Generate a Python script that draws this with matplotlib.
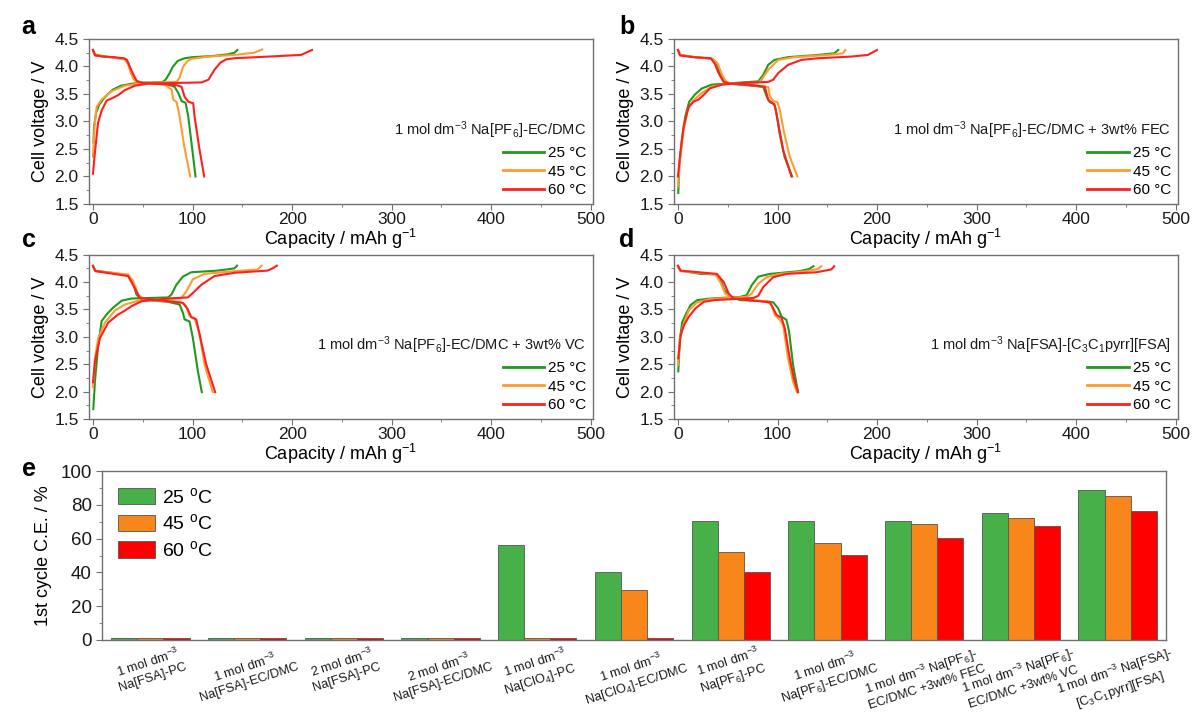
import matplotlib
matplotlib.use("Agg")
import matplotlib.pyplot as plt
from matplotlib.lines import Line2D
from matplotlib.ticker import MultipleLocator

plt.rcParams["font.family"] = ["Liberation Sans", "DejaVu Sans"]
plt.rcParams["mathtext.default"] = "regular"

# charge / discharge curves, (capacity mAh/g, voltage V)
a_chg_25 = [(0.5, 2.62), (1, 2.9), (3, 3.15), (6, 3.3), (10, 3.4), (15, 3.5), (20, 3.58), (28, 3.65), (40, 3.69),
            (60, 3.71), (70, 3.72), (73, 3.76), (77, 3.88), (80, 3.99), (85, 4.1), (92, 4.15), (100, 4.17),
            (120, 4.19), (135, 4.22), (142, 4.25), (145, 4.3)]
a_chg_45 = [(0, 2.36), (1.5, 2.9), (3.7, 3.27), (8.7, 3.4), (18.7, 3.55), (32, 3.65), (49, 3.7), (84, 3.72),
            (87, 3.8), (90.6, 4.0), (95, 4.1), (99, 4.14), (116, 4.18), (142, 4.21), (162, 4.25), (170, 4.31)]
a_chg_60 = [(0, 2.05), (1.5, 2.36), (5, 2.97), (8.7, 3.2), (13.7, 3.38), (20, 3.43), (25.4, 3.48), (32, 3.57),
            (42, 3.65), (55.5, 3.69), (82, 3.7), (109, 3.71), (116, 3.76), (122, 3.94), (128, 4.07), (134, 4.13),
            (142, 4.15), (176, 4.18), (209, 4.21), (220, 4.3)]
a_dis_25 = [(0, 4.3), (2, 4.22), (9, 4.19), (22, 4.16), (32, 4.13), (35.5, 4.06), (39, 3.88), (42, 3.76),
            (47, 3.71), (59, 3.7), (75.6, 3.67), (82, 3.63), (85.6, 3.52), (89, 3.37), (93, 3.34), (95.7, 3.09),
            (99, 2.6), (103, 2.0)]
a_dis_45 = [(0, 4.29), (2, 4.21), (10, 4.18), (22, 4.16), (32, 4.13), (35, 4.05), (38, 3.88), (41, 3.76),
            (46, 3.71), (60, 3.69), (72, 3.67), (79, 3.58), (80.6, 3.4), (84, 3.35), (87, 3.09), (91.6, 2.55),
            (97.7, 2.0)]
a_dis_60 = [(0, 4.3), (2, 4.2), (10, 4.18), (20, 4.17), (31, 4.15), (34, 4.12), (39, 3.91), (44, 3.73),
            (50, 3.7), (70, 3.68), (84, 3.66), (89, 3.63), (92, 3.45), (95.7, 3.36), (100.7, 3.33), (102, 3.09),
            (107, 2.49), (111.7, 2.0)]

b_chg_25 = [(0.3, 1.7), (1.3, 2.18), (4, 2.67), (7.3, 3.09), (11.3, 3.36), (17, 3.49), (24, 3.6), (34, 3.67),
            (57, 3.7), (80.7, 3.73), (85.7, 3.85), (90.7, 4.03), (97, 4.12), (110.7, 4.17), (140.7, 4.21),
            (157, 4.24), (161, 4.3)]
b_chg_45 = [(0, 1.82), (2.3, 2.36), (5.7, 2.85), (10, 3.21), (15.7, 3.39), (24, 3.52), (34, 3.63), (47, 3.68),
            (80.7, 3.71), (84, 3.76), (90.7, 3.94), (100.7, 4.12), (117, 4.17), (150.7, 4.21), (165.7, 4.24),
            (168, 4.3)]
b_chg_60 = [(0, 2.0), (2.3, 2.42), (5.7, 2.91), (10.7, 3.27), (15.7, 3.36), (20.7, 3.4), (25.7, 3.48), (32, 3.6),
            (44, 3.67), (64, 3.7), (90.7, 3.72), (95.7, 3.76), (100.7, 3.88), (110.7, 4.03), (124, 4.12),
            (140.7, 4.15), (174, 4.18), (190.7, 4.21), (200, 4.3)]
b_dis_25 = [(0, 4.3), (2.3, 4.21), (17, 4.17), (34, 4.14), (39, 4.06), (42, 3.88), (45.7, 3.73), (50.7, 3.69),
            (74, 3.65), (85.7, 3.63), (89, 3.46), (92.3, 3.35), (96.7, 3.32), (99, 3.15), (102, 2.79), (107, 2.36),
            (114.7, 2.0)]
b_dis_45 = [(0, 4.3), (2.3, 4.21), (17, 4.17), (35, 4.14), (40, 4.05), (44, 3.86), (48, 3.73), (53, 3.69),
            (76, 3.66), (90.7, 3.63), (92.3, 3.46), (95.7, 3.37), (100, 3.35), (102.3, 3.21), (106.7, 2.79),
            (112.3, 2.36), (120, 2.0)]
b_dis_60 = [(0, 4.3), (2, 4.2), (15, 4.17), (33, 4.15), (37, 4.05), (41, 3.87), (46, 3.72), (52, 3.69),
            (75, 3.66), (87.3, 3.63), (90.7, 3.39), (94.7, 3.34), (97.3, 3.29), (100.7, 2.97), (105.7, 2.48),
            (114, 2.0)]

c_chg_25 = [(0.3, 1.68), (2, 2.2), (5.3, 2.86), (8.7, 3.29), (13.7, 3.41), (20, 3.53), (28.7, 3.66), (38.7, 3.7),
            (75.3, 3.72), (78.7, 3.77), (83.7, 3.95), (90.3, 4.1), (98.7, 4.18), (125.3, 4.21), (142, 4.25),
            (144.7, 4.3)]
c_chg_45 = [(0, 2.08), (2, 2.62), (5.3, 2.98), (12, 3.26), (22, 3.48), (32, 3.59), (45.3, 3.66), (88.7, 3.71),
            (93.7, 3.83), (100.3, 4.05), (112, 4.15), (142, 4.2), (165.3, 4.23), (169.3, 4.3)]
c_chg_60 = [(0, 2.17), (2, 2.56), (7, 2.98), (15.3, 3.26), (25.3, 3.41), (30.3, 3.46), (38.7, 3.56), (48.7, 3.65),
            (75.3, 3.7), (95.3, 3.72), (100.3, 3.8), (108.7, 3.95), (122, 4.11), (142, 4.17), (175.3, 4.21),
            (180.3, 4.25), (184.7, 4.3)]
c_dis_25 = [(0, 4.3), (2, 4.21), (18.7, 4.17), (35.3, 4.12), (40.3, 3.98), (43.7, 3.77), (48.7, 3.68),
            (75.3, 3.64), (87, 3.59), (90.3, 3.44), (92, 3.32), (97, 3.28), (100.3, 2.98), (105.3, 2.38),
            (109.3, 1.99)]
c_dis_45 = [(0, 4.3), (2, 4.2), (35.3, 4.14), (40.3, 4.02), (45.3, 3.77), (52, 3.68), (88.7, 3.64), (93.7, 3.56),
            (97, 3.38), (102, 3.34), (107, 3.05), (112, 2.5), (120.3, 1.99)]
c_dis_60 = [(0, 4.29), (2.5, 4.2), (35.3, 4.11), (42, 3.89), (47, 3.71), (90.3, 3.62), (95.3, 3.5), (98.7, 3.36),
            (103.7, 3.32), (107, 3.05), (113.7, 2.5), (122.7, 1.99)]

d_chg_25 = [(0.3, 2.37), (2, 2.97), (4.3, 3.27), (7.6, 3.4), (12.6, 3.58), (19.3, 3.67), (32.6, 3.7), (62.5, 3.73),
            (69, 3.76), (74, 3.94), (80.7, 4.1), (92.4, 4.15), (122, 4.2), (132, 4.24), (136, 4.29)]
d_chg_45 = [(0, 2.49), (2, 2.97), (5.3, 3.21), (11, 3.49), (19.3, 3.63), (32.6, 3.69), (69, 3.73), (74, 3.79),
            (80.7, 3.97), (89, 4.09), (102.3, 4.15), (129, 4.2), (140.5, 4.24), (144, 4.29)]
d_chg_60 = [(0.3, 2.61), (2.7, 3.03), (6, 3.21), (11, 3.37), (17.6, 3.52), (26, 3.64), (36, 3.67), (75.7, 3.71),
            (80.7, 3.75), (85.7, 3.91), (95.7, 4.09), (109, 4.15), (139, 4.18), (154, 4.23), (157, 4.29)]
d_dis_25 = [(0, 4.29), (2.5, 4.21), (22.6, 4.15), (39, 4.14), (42.5, 4.06), (46, 3.88), (51, 3.75), (62.5, 3.67),
            (89, 3.65), (95.7, 3.63), (100.7, 3.52), (104, 3.37), (109, 3.31), (111.6, 3.1), (115.6, 2.49),
            (120.6, 1.99)]
d_dis_45 = [(0, 4.28), (2.5, 4.2), (37.5, 4.14), (42.5, 4.0), (47.5, 3.79), (56, 3.7), (89, 3.65), (94, 3.58),
            (97.3, 3.4), (102.3, 3.31), (105.6, 3.22), (110.6, 2.61), (115.6, 2.18), (119.6, 1.99)]
d_dis_60 = [(0, 4.3), (2.5, 4.21), (39, 4.15), (46, 4.0), (51, 3.79), (56, 3.7), (92.4, 3.63), (95.7, 3.52),
            (99, 3.4), (104, 3.35), (107.3, 3.16), (112.3, 2.61), (116.3, 2.25), (120.6, 1.99)]

temps = ["25 °C", "45 °C", "60 °C"]
panel_titles = [
    "1 mol dm$^{-3}$ Na[PF$_6$]-EC/DMC",
    "1 mol dm$^{-3}$ Na[PF$_6$]-EC/DMC + 3wt% FEC",
    "1 mol dm$^{-3}$ Na[PF$_6$]-EC/DMC + 3wt% VC",
    "1 mol dm$^{-3}$ Na[FSA]-[C$_3$C$_1$pyrr][FSA]",
]

# panel e, first cycle coulombic efficiency (%)
electrolytes = [
    "1 mol dm$^{-3}$\nNa[FSA]-PC",
    "1 mol dm$^{-3}$\nNa[FSA]-EC/DMC",
    "2 mol dm$^{-3}$\nNa[FSA]-PC",
    "2 mol dm$^{-3}$\nNa[FSA]-EC/DMC",
    "1 mol dm$^{-3}$\nNa[ClO$_4$]-PC",
    "1 mol dm$^{-3}$\nNa[ClO$_4$]-EC/DMC",
    "1 mol dm$^{-3}$\nNa[PF$_6$]-PC",
    "1 mol dm$^{-3}$\nNa[PF$_6$]-EC/DMC",
    "1 mol dm$^{-3}$ Na[PF$_6$]-\nEC/DMC +3wt% FEC",
    "1 mol dm$^{-3}$ Na[PF$_6$]-\nEC/DMC +3wt% VC",
    "1 mol dm$^{-3}$ Na[FSA]-\n[C$_3$C$_1$pyrr][FSA]",
]
ce_25 = [1, 1, 1, 1, 56.5, 40.5, 70.2, 70.7, 70.7, 75.4, 88.7]
ce_45 = [1, 1, 1, 1, 1, 29.3, 52.3, 57.6, 68.9, 72.4, 85.0]
ce_60 = [1, 1, 1, 1, 1, 1, 40.4, 50.3, 60.5, 67.2, 76.6]

line_colors = ["#1f9a1f", "#ff9c2e", "#ff1f1f"]
bar_colors = ["#48b048", "#f8861a", "#ff0000"]
spine_col = "#707070"

fig = plt.figure(figsize=(11.95, 7.22), dpi=100)

curves = [
    [(a_chg_25, a_dis_25), (a_chg_45, a_dis_45), (a_chg_60, a_dis_60)],
    [(b_chg_25, b_dis_25), (b_chg_45, b_dis_45), (b_chg_60, b_dis_60)],
    [(c_chg_25, c_dis_25), (c_chg_45, c_dis_45), (c_chg_60, c_dis_60)],
    [(d_chg_25, d_dis_25), (d_chg_45, d_dis_45), (d_chg_60, d_dis_60)],
]
positions = [
    [0.0745, 0.7175, 0.4215, 0.2285],
    [0.5640, 0.7175, 0.4215, 0.2285],
    [0.0745, 0.4197, 0.4215, 0.2275],
    [0.5640, 0.4197, 0.4215, 0.2275],
]
letters = ["a", "b", "c", "d"]
letter_xy = [(0.018, 0.962), (0.518, 0.962), (0.018, 0.668), (0.518, 0.668)]


def style_axes(ax, size):
    for s in ax.spines.values():
        s.set_color(spine_col)
        s.set_linewidth(1.0)
    ax.tick_params(which="both", direction="out", color=spine_col, labelsize=size, labelcolor="#1a1a1a")
    ax.tick_params(which="major", length=4)
    ax.tick_params(which="minor", length=2.5)


for i in range(4):
    ax = fig.add_axes(positions[i])
    for (chg, dis), col in zip(curves[i], line_colors):
        ax.plot([p[0] for p in chg], [p[1] for p in chg], color=col, lw=1.5)
        ax.plot([p[0] for p in dis], [p[1] for p in dis], color=col, lw=1.5)
    ax.set_xlim(-4, 502)
    ax.set_ylim(1.5, 4.5)
    ax.set_xticks([0, 100, 200, 300, 400, 500])
    ax.set_yticks([1.5, 2.0, 2.5, 3.0, 3.5, 4.0, 4.5])
    ax.set_yticklabels(["1.5", "2.0", "2.5", "3.0", "3.5", "4.0", "4.5"])
    ax.xaxis.set_minor_locator(MultipleLocator(50))
    ax.yaxis.set_minor_locator(MultipleLocator(0.25))
    style_axes(ax, 12.5)
    ax.tick_params(axis="x", pad=1.5)
    ax.set_xlabel("Capacity / mAh g$^{-1}$", fontsize=13, labelpad=0)
    ax.set_ylabel("Cell voltage / V", fontsize=13, labelpad=4)
    handles = [Line2D([], [], color=c, lw=2) for c in line_colors]
    leg = ax.legend(handles, temps, title=panel_titles[i], loc="lower right", frameon=False,
                    alignment="right", fontsize=11, title_fontsize=10.5, handlelength=2.7,
                    handletextpad=0.25, labelspacing=0.3, borderaxespad=0.25, borderpad=0.2)
    leg.get_title().set_color("#1a1a1a")
    fig.text(letter_xy[i][0], letter_xy[i][1], letters[i], fontsize=18, fontweight="bold",
             ha="left", va="center")

# panel e
ax = fig.add_axes([0.0854, 0.1136, 0.8903, 0.2340])
w = 0.27
x = list(range(len(electrolytes)))
for k, (vals, col, lab) in enumerate(zip([ce_25, ce_45, ce_60], bar_colors, temps)):
    ax.bar([xi + (k - 1) * w for xi in x], vals, w, color=col, edgecolor="#555555", linewidth=0.6,
           label=lab.replace("°", "$^{o}$"))
ax.set_xlim(-0.5, len(electrolytes) - 0.5)
ax.set_ylim(0, 100)
ax.set_yticks([0, 20, 40, 60, 80, 100])
ax.yaxis.set_minor_locator(MultipleLocator(10))
style_axes(ax, 13.5)
ax.set_xticks(x)
ax.set_xticklabels(electrolytes, rotation=18, ha="center", fontsize=9.3, color="#1a1a1a")
ax.tick_params(axis="x", length=0, pad=3)
ax.set_ylabel("1st cycle C.E. / %", fontsize=13, labelpad=6)
ax.legend(loc="upper left", frameon=False, fontsize=14, handlelength=1.9, handleheight=0.9,
          handletextpad=0.4, labelspacing=0.35, borderaxespad=0.4)
fig.text(0.018, 0.350, "e", fontsize=18, fontweight="bold", ha="left", va="center")

fig.savefig("out.png", dpi=100)
